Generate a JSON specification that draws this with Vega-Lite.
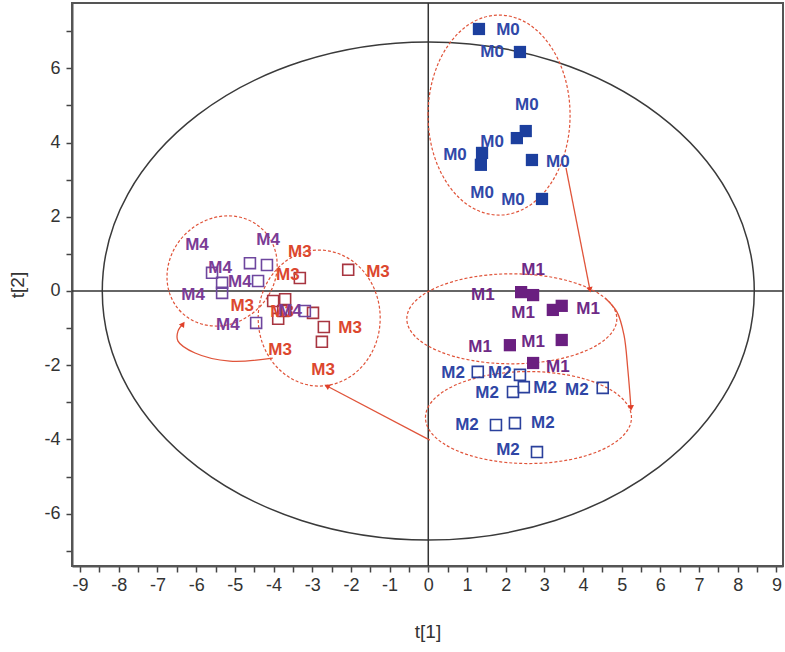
{
  "$schema": "https://vega.github.io/schema/vega-lite/v6.json",
  "width": 711,
  "height": 563,
  "autosize": {"type": "none"},
  "padding": {"left": 72, "top": 3, "right": 2, "bottom": 86},
  "background": "white",
  "config": {
    "view": {"stroke": "#555555", "strokeWidth": 2},
    "axis": {"grid": false, "domainColor": "#555555", "domainWidth": 2, "tickColor": "#444444", "tickWidth": 1.5, "tickSize": 6, "labelFont": "Liberation Sans", "labelFontSize": 18, "labelColor": "#333333", "labelPadding": 4, "titleFont": "Liberation Sans", "titleFontSize": 19, "titleFontWeight": "normal", "titleColor": "#333333", "labelOverlap": false, "labelFlush": false}
  },
  "datasets": {
    "ellipses": [
      {"g": "T2", "x": 0, "y": 0},
      {"g": "M0", "x": 1.83, "y": 4.74},
      {"g": "M1", "x": 2.16, "y": -0.75},
      {"g": "M2", "x": 2.59, "y": -3.41},
      {"g": "M3", "x": -2.82, "y": -0.73},
      {"g": "M4", "x": -5.33, "y": 0.54}
    ],
    "points": [
      {"g": "M0", "x": 1.31, "y": 7.06}, {"g": "M0", "x": 2.37, "y": 6.44}, {"g": "M0", "x": 2.29, "y": 4.12}, {"g": "M0", "x": 2.52, "y": 4.31},
      {"g": "M0", "x": 1.39, "y": 3.72}, {"g": "M0", "x": 1.36, "y": 3.40}, {"g": "M0", "x": 2.68, "y": 3.53}, {"g": "M0", "x": 2.94, "y": 2.48},
      {"g": "M1", "x": 2.40, "y": -0.03}, {"g": "M1", "x": 2.71, "y": -0.11}, {"g": "M1", "x": 3.22, "y": -0.51}, {"g": "M1", "x": 3.45, "y": -0.40},
      {"g": "M1", "x": 2.11, "y": -1.46}, {"g": "M1", "x": 3.45, "y": -1.32}, {"g": "M1", "x": 2.71, "y": -1.94},
      {"g": "M2", "x": 1.28, "y": -2.18}, {"g": "M2", "x": 2.37, "y": -2.26}, {"g": "M2", "x": 2.47, "y": -2.59}, {"g": "M2", "x": 2.19, "y": -2.72},
      {"g": "M2", "x": 4.51, "y": -2.61}, {"g": "M2", "x": 1.75, "y": -3.61}, {"g": "M2", "x": 2.24, "y": -3.56}, {"g": "M2", "x": 2.81, "y": -4.34},
      {"g": "M3", "x": -2.07, "y": 0.57}, {"g": "M3", "x": -3.32, "y": 0.35}, {"g": "M3", "x": -4.01, "y": -0.27}, {"g": "M3", "x": -3.70, "y": -0.22},
      {"g": "M3", "x": -3.88, "y": -0.75}, {"g": "M3", "x": -3.75, "y": -0.54}, {"g": "M3", "x": -2.98, "y": -0.59}, {"g": "M3", "x": -2.70, "y": -0.97}, {"g": "M3", "x": -2.75, "y": -1.37},
      {"g": "M4", "x": -4.61, "y": 0.75}, {"g": "M4", "x": -4.17, "y": 0.70}, {"g": "M4", "x": -5.59, "y": 0.49}, {"g": "M4", "x": -5.33, "y": 0.22},
      {"g": "M4", "x": -4.40, "y": 0.27}, {"g": "M4", "x": -5.33, "y": -0.05}, {"g": "M4", "x": -4.45, "y": -0.86}, {"g": "M4", "x": -3.19, "y": -0.54}
    ],
    "labels": [
      {"g": "M0", "x": 2.06, "y": 7.04}, {"g": "M0", "x": 1.65, "y": 6.44}, {"g": "M0", "x": 2.55, "y": 5.01}, {"g": "M0", "x": 1.65, "y": 4.02},
      {"g": "M0", "x": 0.69, "y": 3.67}, {"g": "M0", "x": 3.35, "y": 3.48}, {"g": "M0", "x": 1.39, "y": 2.64}, {"g": "M0", "x": 2.19, "y": 2.45},
      {"g": "M1", "x": 2.71, "y": 0.57}, {"g": "M1", "x": 1.41, "y": -0.11}, {"g": "M1", "x": 2.45, "y": -0.59}, {"g": "M1", "x": 4.13, "y": -0.49},
      {"g": "M1", "x": 1.34, "y": -1.51}, {"g": "M1", "x": 2.71, "y": -1.37}, {"g": "M1", "x": 3.35, "y": -2.05},
      {"g": "M2", "x": 0.64, "y": -2.21}, {"g": "M2", "x": 1.85, "y": -2.21}, {"g": "M2", "x": 1.52, "y": -2.75}, {"g": "M2", "x": 3.02, "y": -2.61},
      {"g": "M2", "x": 3.84, "y": -2.67}, {"g": "M2", "x": 1.00, "y": -3.61}, {"g": "M2", "x": 2.96, "y": -3.56}, {"g": "M2", "x": 2.06, "y": -4.29},
      {"g": "M3", "x": -1.30, "y": 0.51}, {"g": "M3", "x": -3.32, "y": 1.05}, {"g": "M3", "x": -3.63, "y": 0.43}, {"g": "M3", "x": -4.81, "y": -0.40},
      {"g": "M3", "x": -3.78, "y": -0.57}, {"g": "M3", "x": -2.02, "y": -1.00}, {"g": "M3", "x": -3.83, "y": -1.59}, {"g": "M3", "x": -2.72, "y": -2.13},
      {"g": "M4", "x": -5.98, "y": 1.24}, {"g": "M4", "x": -4.14, "y": 1.37}, {"g": "M4", "x": -5.38, "y": 0.62}, {"g": "M4", "x": -4.87, "y": 0.24},
      {"g": "M4", "x": -6.08, "y": -0.11}, {"g": "M4", "x": -5.18, "y": -0.92}, {"g": "M4", "x": -3.57, "y": -0.54}
    ],
    "arrows": [
      {"a": "a", "o": 1, "x": 3.56, "y": 3.32}, {"a": "a", "o": 2, "x": 4.18, "y": 0.03},
      {"a": "b", "o": 1, "x": 4.57, "y": -0.19}, {"a": "b", "o": 2, "x": 4.88, "y": -0.57}, {"a": "b", "o": 3, "x": 5.06, "y": -1.19}, {"a": "b", "o": 4, "x": 5.16, "y": -2.13}, {"a": "b", "o": 5, "x": 5.24, "y": -3.15},
      {"a": "c", "o": 1, "x": 0.04, "y": -4.02}, {"a": "c", "o": 2, "x": -2.62, "y": -2.56},
      {"a": "d", "o": 1, "x": -4.02, "y": -1.81}, {"a": "d", "o": 2, "x": -5.13, "y": -1.89}, {"a": "d", "o": 3, "x": -6.03, "y": -1.67}, {"a": "d", "o": 4, "x": -6.47, "y": -1.35}, {"a": "d", "o": 5, "x": -6.47, "y": -1.08}, {"a": "d", "o": 6, "x": -6.34, "y": -0.89}
    ],
    "heads": [
      {"a": "a", "x": 4.18, "y": 0.03},
      {"a": "b", "x": 5.24, "y": -3.15},
      {"a": "c", "x": -2.62, "y": -2.56},
      {"a": "d", "x": -6.34, "y": -0.89}
    ]
  },
  "encoding": {
    "x": {"field": "x", "type": "quantitative", "scale": {"domain": [-9.21, 9.17], "nice": false, "zero": false},
          "axis": {"title": "t[1]", "titlePadding": 28, "labelOverlap": false, "labelFlush": false, "values": [-9,-8.5,-8,-7.5,-7,-6.5,-6,-5.5,-5,-4.5,-4,-3.5,-3,-2.5,-2,-1.5,-1,-0.5,0,0.5,1,1.5,2,2.5,3,3.5,4,4.5,5,5.5,6,6.5,7,7.5,8,8.5,9],
                   "labelExpr": "datum.value % 1 === 0 ? '' + datum.value : ''"}},
    "y": {"field": "y", "type": "quantitative", "scale": {"domain": [-7.41, 7.76], "nice": false, "zero": false},
          "axis": {"title": "t[2]", "titlePadding": 16, "labelPadding": 6, "labelOverlap": false, "labelFlush": false, "values": [-7,-6,-5,-4,-3,-2,-1,0,1,2,3,4,5,6,7],
                   "labelExpr": "datum.value % 2 === 0 ? '' + datum.value : ''"}}
  },
  "layer": [
    {
      "data": {"name": "ellipses"},
      "transform": [{"filter": "datum.g === 'T2'"}],
      "mark": {"type": "point", "shape": "M -1 0 A 1 0.7638 0 1 1 1 0 A 1 0.7638 0 1 1 -1 0 Z", "size": 425104, "filled": false, "stroke": "#3a3a3a", "strokeWidth": 1.5, "opacity": 1}
    },
    {
      "data": {"values": [{"x": -9.21, "y": 0, "k": "h"}, {"x": 9.17, "y": 0, "k": "h"}, {"x": 0, "y": -7.41, "k": "v"}, {"x": 0, "y": 7.76, "k": "v"}]},
      "mark": {"type": "line", "color": "#333333", "strokeWidth": 1.5},
      "encoding": {"detail": {"field": "k"}}
    },
    {
      "data": {"name": "ellipses"},
      "transform": [{"filter": "datum.g === 'M0'"}],
      "mark": {"type": "point", "shape": "M -0.71 0 A 0.71 1 0 1 1 0.71 0 A 0.71 1 0 1 1 -0.71 0 Z", "size": 40000, "filled": false, "stroke": "#e0543a", "strokeWidth": 1.2, "strokeDash": [3, 2], "opacity": 1}
    },
    {
      "data": {"name": "ellipses"},
      "transform": [{"filter": "datum.g === 'M1'"}],
      "mark": {"type": "point", "shape": "M -1 0 A 1 0.4286 0 1 1 1 0 A 1 0.4286 0 1 1 -1 0 Z", "size": 44100, "filled": false, "stroke": "#e0543a", "strokeWidth": 1.2, "strokeDash": [3, 2], "opacity": 1}
    },
    {
      "data": {"name": "ellipses"},
      "transform": [{"filter": "datum.g === 'M2'"}],
      "mark": {"type": "point", "shape": "M -1 0 A 1 0.4466 0 1 1 1 0 A 1 0.4466 0 1 1 -1 0 Z", "size": 42436, "filled": false, "stroke": "#e0543a", "strokeWidth": 1.2, "strokeDash": [3, 2], "opacity": 1}
    },
    {
      "data": {"name": "ellipses"},
      "transform": [{"filter": "datum.g === 'M3'"}],
      "mark": {"type": "point", "shape": "M -0.897 0 A 0.897 1 0 1 1 0.897 0 A 0.897 1 0 1 1 -0.897 0 Z", "size": 18496, "filled": false, "stroke": "#e0543a", "strokeWidth": 1.2, "strokeDash": [3, 2], "opacity": 1}
    },
    {
      "data": {"name": "ellipses"},
      "transform": [{"filter": "datum.g === 'M4'"}],
      "mark": {"type": "point", "shape": "M -1 0 A 1 0.8966 0 1 1 1 0 A 1 0.8966 0 1 1 -1 0 Z", "size": 13456, "angle": -45, "filled": false, "stroke": "#e0543a", "strokeWidth": 1.2, "strokeDash": [3, 2], "opacity": 1}
    },
    {
      "data": {"name": "arrows"},
      "mark": {"type": "line", "color": "#e0543a", "strokeWidth": 1.3, "interpolate": "catmull-rom"},
      "encoding": {
        "detail": {"field": "a"},
        "order": {"field": "o", "type": "quantitative"}
      }
    },
    {
      "data": {"name": "heads"},
      "transform": [{"filter": "datum.a === 'a'"}],
      "mark": {"type": "point", "shape": "triangle-up", "size": 40, "angle": 169, "filled": true, "color": "#e0402a", "opacity": 1}
    },
    {
      "data": {"name": "heads"},
      "transform": [{"filter": "datum.a === 'b'"}],
      "mark": {"type": "point", "shape": "triangle-up", "size": 40, "angle": 178, "filled": true, "color": "#e0402a", "opacity": 1}
    },
    {
      "data": {"name": "heads"},
      "transform": [{"filter": "datum.a === 'c'"}],
      "mark": {"type": "point", "shape": "triangle-up", "size": 40, "angle": 298, "filled": true, "color": "#e0402a", "opacity": 1}
    },
    {
      "data": {"name": "heads"},
      "transform": [{"filter": "datum.a === 'd'"}],
      "mark": {"type": "point", "shape": "triangle-up", "size": 40, "angle": 35, "filled": true, "color": "#e0402a", "opacity": 1}
    },
    {
      "data": {"name": "points"},
      "transform": [{"filter": "datum.g === 'M0' || datum.g === 'M1'"}],
      "mark": {"type": "point", "shape": "square", "size": 150, "filled": true, "opacity": 1},
      "encoding": {
        "fill": {"field": "g", "type": "nominal", "scale": {"domain": ["M0", "M1"], "range": ["#1c3f9e", "#6a1f80"]}, "legend": null}
      }
    },
    {
      "data": {"name": "points"},
      "transform": [{"filter": "datum.g === 'M2' || datum.g === 'M3' || datum.g === 'M4'"}],
      "mark": {"type": "point", "shape": "square", "size": 120, "filled": false, "strokeWidth": 1.6, "opacity": 1},
      "encoding": {
        "stroke": {"field": "g", "type": "nominal", "scale": {"domain": ["M2", "M3", "M4"], "range": ["#2a409c", "#a83540", "#6e469e"]}, "legend": null}
      }
    },
    {
      "data": {"name": "labels"},
      "mark": {"type": "text", "font": "Liberation Sans", "fontSize": 17, "fontWeight": "bold", "align": "center", "baseline": "middle"},
      "encoding": {
        "text": {"field": "g"},
        "color": {"field": "g", "type": "nominal", "scale": {"domain": ["M0", "M1", "M2", "M3", "M4"], "range": ["#3048a8", "#6e2a86", "#2f46a5", "#dc472e", "#7b3c96"]}, "legend": null}
      }
    }
  ]
}
